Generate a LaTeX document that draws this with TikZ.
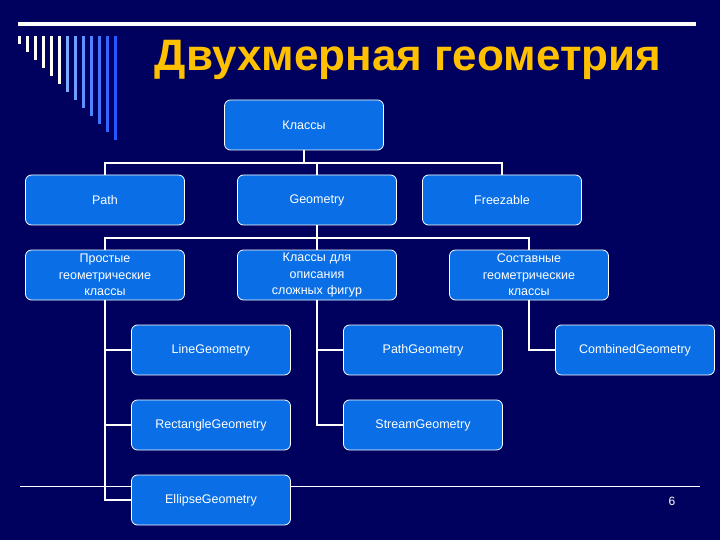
\documentclass[tikz,border=0pt]{standalone}
\usepackage{fontspec}
\setmainfont{Liberation Sans}
\begin{document}
\begin{tikzpicture}[x=1pt,y=-1pt,
  box/.style={draw=white,line width=0.8pt,fill=boxblue,rounded corners=6pt,minimum width=159pt,minimum height=50pt,text width=155pt,align=center,font=\fontsize{12.5}{16.5}\selectfont,text=white,inner sep=0pt},
  conn/.style={draw=white,line width=2pt}]
\definecolor{bg}{HTML}{00005E}
\definecolor{boxblue}{HTML}{0A6FE6}
\definecolor{gold}{HTML}{FFC000}
\fill[bg] (0,0) rectangle (720,540);
\useasboundingbox (0,0) rectangle (720,540);
\fill[white] (18,22) rectangle (696,26);
\foreach \i in {0,...,12}{
  \pgfmathsetmacro\c{\i<6 ? 100-\i*6 : 60-(\i-6)*7}
  \ifnum\i<6 \colorlet{dc}{white!\c!yellow!20!white}\else\colorlet{dc}{white!\c!blue!80!cyan}\fi
  \fill[dc] ({18+\i*8},36) rectangle ({21+\i*8},{44+\i*8});
}
\node[font=\bfseries\fontsize{44}{48}\selectfont,text=gold] (title) at (408,60) {Двухмерная геометрия};
\node[box] (k) at (304,125) {Классы};
\node[box] (path) at (105,200) {Path};
\node[box] (geo) at (317,200) {Geometry};
\node[box] (frz) at (502,200) {Freezable};
\node[box] (pr) at (105,275) {Простые\\геометрические\\классы};
\node[box] (sl) at (317,275) {Классы для\\описания\\сложных фигур};
\node[box] (so) at (529,275) {Составные\\геометрические\\классы};
\node[box] (line) at (211,350) {LineGeometry};
\node[box] (pg) at (423,350) {PathGeometry};
\node[box] (comb) at (635,350) {CombinedGeometry};
\node[box] (rect) at (211,425) {RectangleGeometry};
\node[box] (str) at (423,425) {StreamGeometry};
\draw[white,line width=0.8pt] (20,486) -- (700,486);
\node[box] (ell) at (211,500) {EllipseGeometry};
\node[text=white,font=\fontsize{12}{14}\selectfont] (pn) at (672,501) {6};
\draw[conn] (k.south) -- ++(0,13) coordinate (a1);
\draw[conn] (path.north) |- (a1) -| (frz.north);
\draw[conn] (a1) -| (geo.north);
\draw[conn] (geo.south) -- ++(0,13) coordinate (a2);
\draw[conn] (pr.north) |- (a2) -| (so.north);
\draw[conn] (a2) -- (sl.north);
\draw[conn] (pr.south) |- (ell.west);
\draw[conn] (pr.south) |- (line.west);
\draw[conn] (pr.south) |- (rect.west);
\draw[conn] (sl.south) |- (pg.west);
\draw[conn] (sl.south) |- (str.west);
\draw[conn] (so.south) |- (comb.west);
\end{tikzpicture}
\end{document}
